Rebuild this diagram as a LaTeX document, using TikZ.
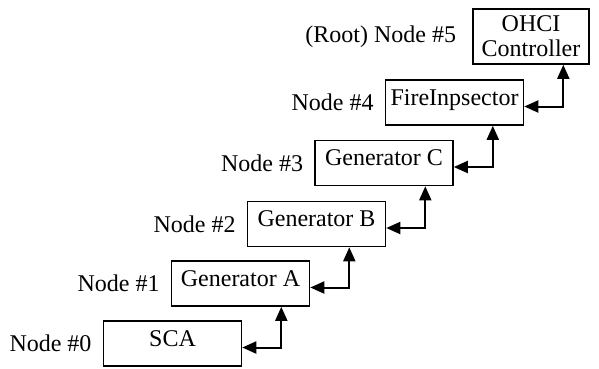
\documentclass[tikz,border=0pt]{standalone}
\usepackage{fontspec}
\setmainfont{Liberation Serif}
\usetikzlibrary{arrows.meta,positioning}
\tikzset{every node/.style={font=\fontsize{24}{25}\selectfont},
  box/.style={draw,line width=1.6pt,minimum width=138pt,minimum height=45pt,
    inner sep=0pt,text height=16pt,text depth=11pt},
  tag/.style={inner sep=0pt},
  link/.style={{Triangle[length=14pt,width=12pt]}-{Triangle[length=14pt,width=12pt]},line width=2pt}}

\begin{document}
\begin{tikzpicture}[x=1pt,y=-1pt]
\useasboundingbox (0,0) rectangle (599,368);
\node[box] (sca) at (172.5,343.5) {SCA};
\node[box] (gena) at (240.5,283.5) {Generator A};
\node[box] (genb) at (316.5,224) {Generator B};
\node[box] (genc) at (384,163) {Generator C};
\node[box] (fire) at (454.5,102.5) {FireInpsector};
\node[box,minimum width=116pt,minimum height=55pt,align=center,text height=,text depth=] (ohci) at (531,36.5) {OHCI\\Controller};
\node[tag,left=11pt of sca] {Node \#0};
\node[tag,left=11pt of gena] {Node \#1};
\node[tag,left=11pt of genb] {Node \#2};
\node[tag,left=11pt of genc] {Node \#3};
\node[tag,left=11pt of fire] {Node \#4};
\node[tag,left=16pt of ohci] {(Root) Node \#5};
\foreach \lo/\hi in {sca/gena,gena/genb,genb/genc,genc/fire,fire/ohci}{
  \coordinate (k) at ([xshift=39pt]\lo.east);
  \draw[link] ([yshift=-4pt]\lo.east) -| (k |- \hi.south);
}
\end{tikzpicture}
\end{document}
